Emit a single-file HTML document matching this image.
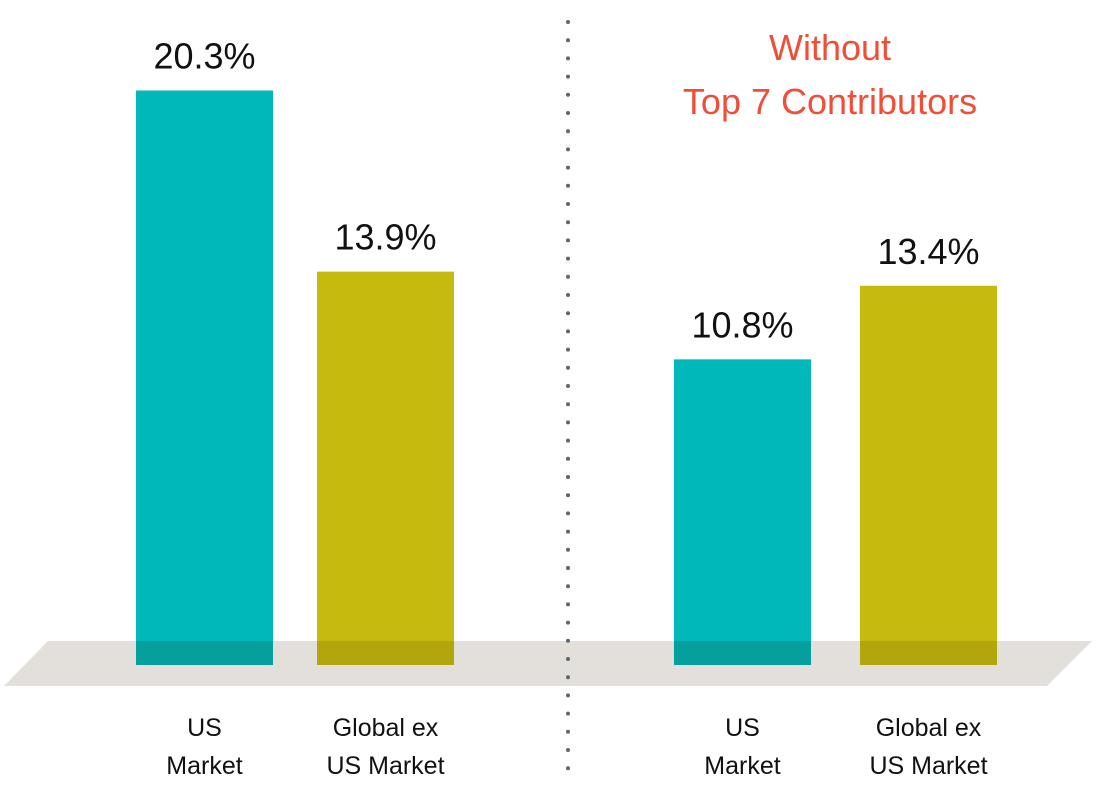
<!DOCTYPE html>
<html><head><meta charset="utf-8"><style>
body{margin:0;background:#fff;}
svg text{font-family:"Liberation Sans Narrow","Liberation Sans",sans-serif;}
</style></head><body>
<svg id="chart" width="1098" height="803" viewBox="0 0 1098 803" xmlns="http://www.w3.org/2000/svg">
<polygon points="48,641 1092,641 1047,686 4,686" fill="#e3e0dc"/>
<g id="bars"></g>
<g id="divider"></g>
<text x="830" y="60" text-anchor="middle" font-size="36" fill="#f04e37">Without</text>
<text x="830" y="114" text-anchor="middle" font-size="36" fill="#f04e37">Top 7 Contributors</text>
</svg>
<script>
const categories = ["US|Market","Global ex|US Market","US|Market","Global ex|US Market"];
const values = [20.3, 13.9, 10.8, 13.4];
const labels = ["20.3%","13.9%","10.8%","13.4%"];
const colors = ["#00b7b9","#c7ba0f","#00b7b9","#c7ba0f"];
const dark = ["#05a09e","#b3a50c","#05a09e","#b3a50c"];
const xLeft = [136,317,674,860];
const baseY = 665, barW = 137, scale = 28.3;
function y(v){return baseY - v*scale;}
const ns="http://www.w3.org/2000/svg";
const g=document.getElementById('bars');
values.forEach((v,i)=>{
  const r=document.createElementNS(ns,'rect');
  r.setAttribute('x',xLeft[i]);r.setAttribute('y',y(v));r.setAttribute('width',barW);r.setAttribute('height',641-y(v));r.setAttribute('fill',colors[i]);
  
  
  g.appendChild(r);
  const r2=document.createElementNS(ns,'rect');
  r2.setAttribute('x',xLeft[i]);r2.setAttribute('y',641);r2.setAttribute('width',barW);r2.setAttribute('height',baseY-641);r2.setAttribute('fill',dark[i]);
  
  
  g.appendChild(r2);
  const t=document.createElementNS(ns,'text');
  t.setAttribute('x',xLeft[i]+barW/2);t.setAttribute('y',y(v)-22);t.setAttribute('text-anchor','middle');t.setAttribute('font-size','36');t.setAttribute('fill','#111');
  t.textContent=labels[i];
  
  
  g.appendChild(t);
  categories[i].split('|').forEach((ln,j)=>{
    const c=document.createElementNS(ns,'text');
    c.setAttribute('x',xLeft[i]+barW/2);c.setAttribute('y',736+j*38);c.setAttribute('text-anchor','middle');c.setAttribute('font-size','25');c.setAttribute('fill','#111');
    c.textContent=ln;
    
    
    g.appendChild(c);
  });
});
const d=document.getElementById('divider');
for(let yy=22; yy<=780; yy+=18.2){
  const c=document.createElementNS(ns,'circle');
  c.setAttribute('cx',568);c.setAttribute('cy',yy);c.setAttribute('r',2);c.setAttribute('fill','#5a6770');
  
  
  d.appendChild(c);
}
</script>
</body></html>
